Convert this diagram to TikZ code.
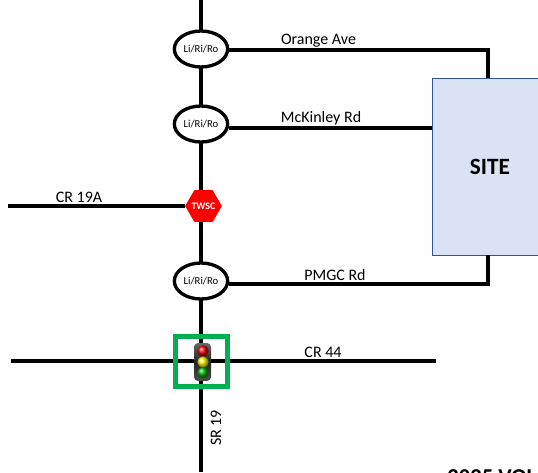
\documentclass[tikz,border=0pt]{standalone}
\usepackage{fontspec}
\setmainfont{Carlito}
\usetikzlibrary{shapes.geometric}
\definecolor{sitefill}{HTML}{DAE3F3}
\definecolor{siteline}{HTML}{2F5597}
\definecolor{signalgreen}{HTML}{00B050}
\definecolor{twsc}{HTML}{FF0000}
\tikzset{
  road/.style={line width=2.5pt,black},
  junction/.style={ellipse,draw=black,fill=white,line width=2.5pt,minimum width=40pt,minimum height=27pt,inner sep=0pt,font=\fontsize{8}{9}\selectfont},
  roadlabel/.style={font=\fontsize{12}{14}\selectfont,inner sep=0pt},
  lamp/.style={circle,minimum size=8.5pt,inner sep=0pt}
}
\begin{document}
\begin{tikzpicture}[x=0.75pt,y=-0.75pt]
\useasboundingbox (0,0) rectangle (538,472);
\clip (0,0) rectangle (538,472);
\coordinate (vtop) at (201,0);
\coordinate (vbot) at (201,472);
\coordinate (cr19w) at (8,206);
\coordinate (cr44w) at (11,361);
\coordinate (cr44e) at (436,361);
\coordinate (orangecorner) at (488,50);
\coordinate (pmgccorner) at (488,284);
\draw[road] (vtop) -- (vbot);
\draw[road] (cr44w) -- (cr44e);
\node[junction] (j1) at (201,49) {Li/Ri/Ro};
\node[junction] (j2) at (201,124) {Li/Ri/Ro};
\node[junction] (j3) at (201,281) {Li/Ri/Ro};
\node[draw=siteline,fill=sitefill,line width=0.9pt,minimum width=111pt,minimum height=132.75pt,anchor=north west,inner sep=0pt] (site) at (432,78) {};
\node[font=\bfseries\fontsize{17.5}{20}\selectfont,inner sep=0pt] (sitelabel) at (490,167) {SITE};
\draw[road] (j1.east |- orangecorner) -- (orangecorner) -- (orangecorner |- site.north);
\draw[road] (j2.east |- 0,128) -- (site.west |- 0,128);
\draw[road] (j3.east |- pmgccorner) -- (pmgccorner) -- (pmgccorner |- 0,255);
\node[regular polygon,regular polygon sides=6,fill=twsc,minimum size=27.5pt,inner sep=0pt] (stop) at (203.5,206) {};
\node[text=white,inner sep=0pt,font=\bfseries\fontsize{7.5}{9}\selectfont] (stoplabel) at (stop.center) {TWSC};
\draw[road] (cr19w) -- (stop.west);
\node[draw=signalgreen,line width=3.75pt,minimum width=39pt,minimum height=37.5pt,inner sep=0pt] (signalbox) at (201.5,361.5) {};
\node[top color=black!60,bottom color=black!70,middle color=black!85,rounded corners=3pt,minimum width=12.75pt,minimum height=28.5pt,inner sep=0pt] (signal) at (202.5,362) {};
\node[lamp,ball color=red!90!black] (lampr) at (203,351) {};
\node[lamp,ball color=yellow!95!orange] (lampy) at (203,362) {};
\node[lamp,ball color=green!70!black] (lampg) at (203,372.5) {};
\node[roadlabel] (orange) at (318.5,41) {Orange Ave};
\node[roadlabel] (mckinley) at (321,118) {McKinley Rd};
\node[roadlabel] (pmgc) at (335,275) {PMGC Rd};
\node[roadlabel] (cr19a) at (79,197) {CR 19A};
\node[roadlabel] (cr44) at (323,352) {CR 44};
\node[roadlabel,rotate=90] (sr19) at (216,428) {SR 19};
\node[font=\bfseries\fontsize{17}{20}\selectfont,inner sep=0pt,anchor=base west] (vol) at (447,484) {2025 VOL};
\end{tikzpicture}
\end{document}
